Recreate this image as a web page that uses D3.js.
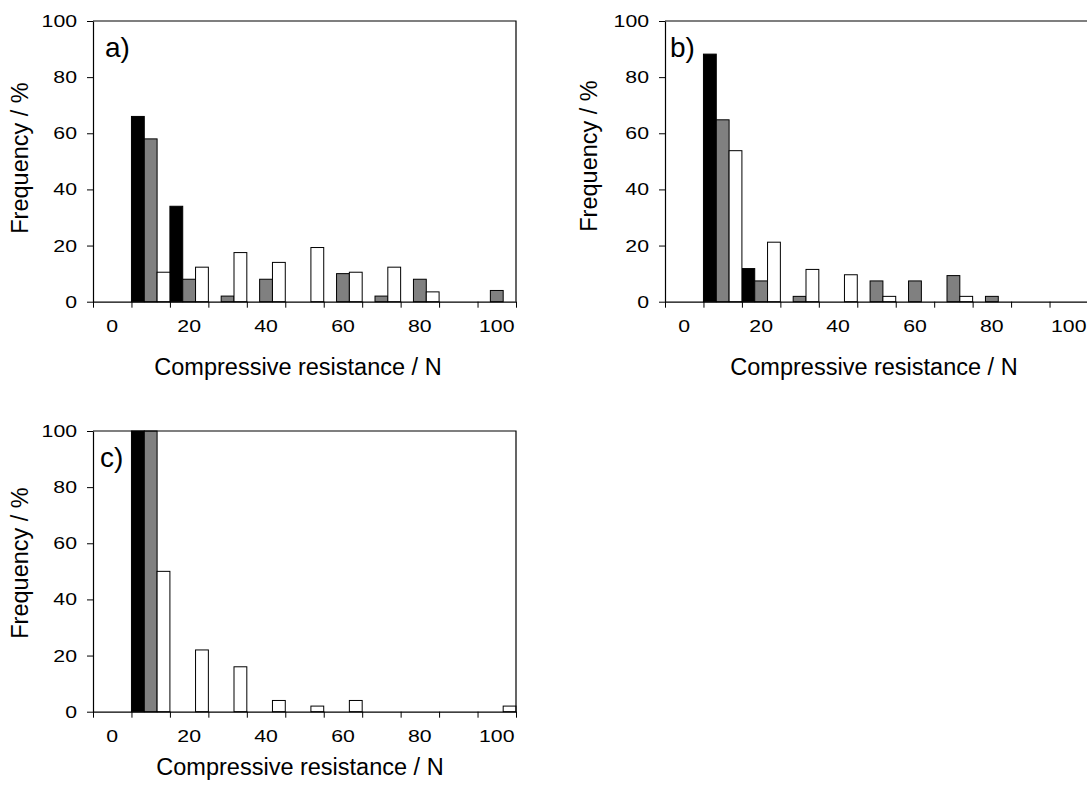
<!DOCTYPE html>
<html>
<head>
<meta charset="utf-8">
<script src="https://cdn.jsdelivr.net/npm/d3@7"></script>
<style>
  html, body { margin: 0; padding: 0; background: #fff; }
  svg { display: block; font-family: "Liberation Sans", Arial, sans-serif; }
</style>
</head>
<body>
<svg id="chart" width="1087" height="785"></svg>
<script>
// Compressive resistance classes (N), one bar group per class
const categories = [0, 10, 20, 30, 40, 50, 60, 70, 80, 90, 100];
const xTickLabels = [0, 20, 40, 60, 80, 100];
const yTickValues = [0, 20, 40, 60, 80, 100];
const seriesNames = ["black", "grey", "white"];

// Frequency (%) per class, panel a)
const aBlack = [0, 66, 34, 0, 0, 0, 0, 0, 0, 0, 0];
const aGrey  = [0, 58, 8, 2, 8, 0, 10, 2, 8, 0, 4];
const aWhite = [0, 10.5, 12.3, 17.5, 14.0, 19.3, 10.5, 12.3, 3.5, 0, 0];

// panel b)
const bBlack = [0, 88.2, 11.8, 0, 0, 0, 0, 0, 0, 0, 0];
const bGrey  = [0, 64.8, 7.4, 1.9, 0, 7.4, 7.4, 9.3, 1.9, 0, 0];
const bWhite = [0, 53.8, 21.2, 11.5, 9.6, 1.9, 0, 1.9, 0, 0, 0];

// panel c)
const cBlack = [0, 100, 0, 0, 0, 0, 0, 0, 0, 0, 0];
const cGrey  = [0, 100, 0, 0, 0, 0, 0, 0, 0, 0, 0];
const cWhite = [0, 50, 22, 16, 4, 2, 4, 0, 0, 0, 2];

const fills = { black: "#000000", grey: "#808080", white: "#ffffff" };

const panels = [
  { label: "a)", series: [aBlack, aGrey, aWhite], left: 93, top: 21,
    labelX: 105, labelY: 57, xTitleX: 298, xTitleY: 375, yTitleX: 28, yTitleY: 158 },
  { label: "b)", series: [bBlack, bGrey, bWhite], left: 665, top: 21,
    labelX: 670, labelY: 57, xTitleX: 874, xTitleY: 375, yTitleX: 597, yTitleY: 156 },
  { label: "c)", series: [cBlack, cGrey, cWhite], left: 93, top: 431,
    labelX: 100, labelY: 467, xTitleX: 300, xTitleY: 775, yTitleX: 28, yTitleY: 563 }
];

const plotW = 423, plotH = 280.7;
const tickFont = 17, tickStretch = 1.25;
const titleFont = 23.5;

const svg = d3.select("#chart");

panels.forEach(p => {
  const g = svg.append("g").attr("transform", `translate(${p.left},${p.top})`);

  const x = d3.scaleBand().domain(categories).range([0, plotW]).paddingInner(0).paddingOuter(0);
  const xs = d3.scaleBand().domain(seriesNames).range([0, x.bandwidth()]).padding(0);
  const y = d3.scaleLinear().domain([0, 100]).range([plotH, 0]);
  const edges = d3.scaleLinear().domain([0, categories.length]).range([0, plotW]);

  // bars
  seriesNames.forEach((s, si) => {
    const vals = p.series[si];
    g.append("g").selectAll("rect")
      .data(categories.map((c, i) => ({ c, v: vals[i] })).filter(d => d.v > 0))
      .join("rect")
      .attr("x", d => x(d.c) + xs(s))
      .attr("y", d => y(d.v))
      .attr("width", xs.bandwidth())
      .attr("height", d => y(0) - y(d.v))
      .attr("fill", fills[s])
      .attr("stroke", "#000")
      .attr("stroke-width", 1);
  });

  // frame: top and right edges
  g.append("path")
    .attr("d", `M0,${y(100)}H${plotW}V${y(0)}`)
    .attr("fill", "none").attr("stroke", "#000").attr("stroke-width", 1.2);

  // x axis: tick marks at class boundaries
  const xAxis = g.append("g").attr("transform", `translate(0,${plotH})`)
    .call(d3.axisBottom(edges).tickValues(d3.range(categories.length + 1)).tickSize(6).tickSizeOuter(0).tickFormat(""));
  xAxis.select(".domain").attr("stroke-width", 1.2);

  // x labels at every other class centre
  const xLab = g.append("g").attr("transform", `translate(0,${plotH})`)
    .call(d3.axisBottom(x).tickValues(xTickLabels).tickSize(0).tickPadding(0));
  xLab.select(".domain").remove();
  xLab.selectAll("text")
    .attr("font-size", tickFont).attr("font-family", "Liberation Sans, Arial, sans-serif")
    .attr("fill", "#000")
    .attr("y", 18.5).attr("dy", "0.71em")
    .attr("transform", `scale(${tickStretch},1)`);

  // y axis
  const yAxis = g.append("g")
    .call(d3.axisLeft(y).tickValues(yTickValues).tickSize(6).tickSizeOuter(0));
  yAxis.select(".domain").attr("stroke-width", 1.2);
  yAxis.selectAll("text")
    .attr("font-size", tickFont).attr("font-family", "Liberation Sans, Arial, sans-serif")
    .attr("fill", "#000")
    .attr("x", -16 / tickStretch)
    .attr("transform", `scale(${tickStretch},1)`);

  // panel letter
  svg.append("text").attr("x", p.labelX).attr("y", p.labelY)
    .attr("font-size", 28).text(p.label);

  // axis titles
  svg.append("text").attr("x", p.xTitleX).attr("y", p.xTitleY)
    .attr("text-anchor", "middle").attr("font-size", titleFont)
    .text("Compressive resistance / N");
  svg.append("text")
    .attr("transform", `translate(${p.yTitleX},${p.yTitleY}) rotate(-90)`)
    .attr("text-anchor", "middle").attr("font-size", titleFont)
    .text("Frequency / %");
});
</script>
</body>
</html>
